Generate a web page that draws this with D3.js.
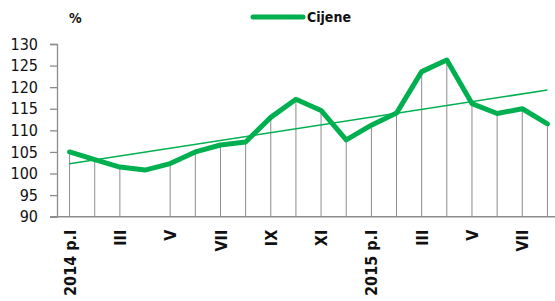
<!DOCTYPE html>
<html>
<head>
<meta charset="utf-8">
<script src="https://cdn.jsdelivr.net/npm/d3@7"></script>
<style>
  body { margin: 0; background: #fff; }
  svg { display: block; font-family: "DejaVu Sans Condensed", "DejaVu Sans", sans-serif; }
</style>
</head>
<body>
<div id="chart"></div>
<script>
const WIDTH = 555
const HEIGHT = 301

// monthly data, Jan 2014 - Aug 2015
const months = ['2014 p.I', 'II', 'III', 'IV', 'V', 'VI', 'VII', 'VIII', 'IX', 'X', 'XI', 'XII',
  '2015 p.I', 'II', 'III', 'IV', 'V', 'VI', 'VII', 'VIII']
const values = [105.0, 103.2, 101.5, 100.8, 102.3, 105.0, 106.6, 107.3, 113.0, 117.2,
  114.6, 107.8, 111.2, 114.0, 123.6, 126.3, 116.2, 113.9, 115.0, 111.5]
const yTicks = [90, 95, 100, 105, 110, 115, 120, 125, 130]
const seriesName = 'Cijene'
const GREEN = '#00b050'

const svg = d3.select('#chart').append('svg')
  .attr('width', WIDTH)
  .attr('height', HEIGHT)

const x = d3.scalePoint()
  .domain(d3.range(months.length))
  .range([57, 560])
  .padding(0.5)

const y = d3.scaleLinear()
  .domain([90, 130])
  .range([216.7, 44])

// drop lines from each point to the axis (the one at IV is not drawn)
svg.append('g')
  .selectAll('line')
  .data(values.map((v, i) => ({ v, i })).filter(d => d.i !== 3))
  .enter().append('line')
  .attr('x1', d => x(d.i))
  .attr('x2', d => x(d.i))
  .attr('y1', d => y(d.v))
  .attr('y2', y(90))
  .attr('stroke', '#8c8c8c')
  .attr('stroke-width', 1)

// y axis
const yAxis = svg.append('g')
  .attr('transform', 'translate(57,0)')
  .call(d3.axisLeft(y).tickValues(yTicks).tickSize(7).tickPadding(12))
yAxis.select('.domain').attr('stroke', '#8c8c8c').attr('stroke-width', 1.3)
yAxis.selectAll('.tick line').attr('stroke', '#8c8c8c').attr('stroke-width', 1.3)
yAxis.selectAll('.tick text')
  .attr('font-size', 16)
  .attr('font-family', '"DejaVu Sans Condensed", "DejaVu Sans", sans-serif')
  .attr('fill', '#111')

// x axis
const xAxis = svg.append('g')
  .attr('transform', `translate(0,${y(90)})`)
  .call(d3.axisBottom(x)
    .tickValues(d3.range(0, months.length, 2))
    .tickFormat(i => months[i])
    .tickSize(0))
xAxis.select('.domain').remove()
xAxis.append('line')
  .attr('x1', 50).attr('x2', WIDTH)
  .attr('stroke', '#8c8c8c').attr('stroke-width', 1.5)
xAxis.selectAll('.tick text')
  .attr('transform', 'rotate(-90)')
  .attr('text-anchor', 'end')
  .attr('x', -13)
  .attr('y', 0)
  .attr('dy', '0.35em')
  .attr('font-size', 16)
  .attr('font-weight', 'bold')
  .attr('font-family', '"DejaVu Sans Condensed", "DejaVu Sans", sans-serif')
  .attr('fill', '#111')

// linear trend (least squares over the series)
const n = values.length
const mx = d3.mean(d3.range(n))
const my = d3.mean(values)
const slope = d3.sum(values, (v, i) => (i - mx) * (v - my)) / d3.sum(d3.range(n), i => (i - mx) * (i - mx))
const icpt = my - slope * mx
svg.append('line')
  .attr('x1', x(0)).attr('y1', y(icpt))
  .attr('x2', x(n - 1)).attr('y2', y(icpt + slope * (n - 1)))
  .attr('stroke', GREEN)
  .attr('stroke-width', 1.5)

// main series
const line = d3.line()
  .x((d, i) => x(i))
  .y(d => y(d))
svg.append('path')
  .datum(values)
  .attr('d', line)
  .attr('fill', 'none')
  .attr('stroke', GREEN)
  .attr('stroke-width', 5)
  .attr('stroke-linejoin', 'round')
  .attr('stroke-linecap', 'round')

// unit label
svg.append('text')
  .attr('x', 69).attr('y', 23)
  .attr('font-size', 14)
  .attr('font-weight', 'bold')
  .attr('fill', '#111')
  .text('%')

// legend
const legend = svg.append('g').attr('transform', 'translate(253,17)')
legend.append('line')
  .attr('x1', 0).attr('x2', 50)
  .attr('stroke', GREEN).attr('stroke-width', 5)
  .attr('stroke-linecap', 'round')
legend.append('text')
  .attr('x', 54).attr('y', 5)
  .attr('font-size', 14)
  .attr('font-weight', 'bold')
  .attr('fill', '#111')
  .text(seriesName)
</script>
</body>
</html>
